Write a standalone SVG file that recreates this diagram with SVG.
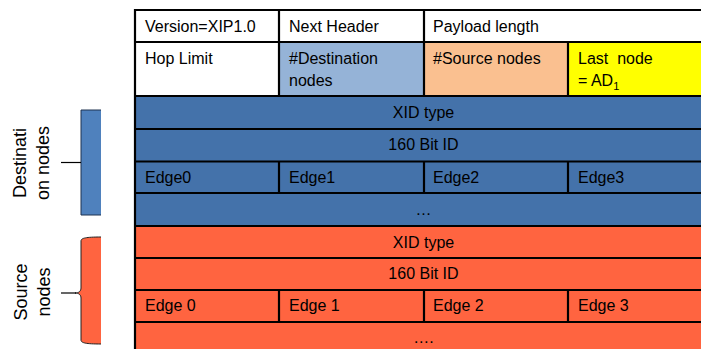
<svg xmlns="http://www.w3.org/2000/svg" width="701" height="349" viewBox="0 0 701 349">
<style>
.t{font-family:"Liberation Sans",Arial,sans-serif;font-size:16px;fill:#000}
.c{text-anchor:middle}
.lbl{font-family:"Liberation Sans",Arial,sans-serif;font-size:18px;fill:#000;text-anchor:middle}
.ln{stroke:#000;stroke-width:2.2;fill:none}
.blue{fill:#4472AA}
.org{fill:#FF6440}
</style>
<rect width="701" height="349" fill="#fff"/>
<!-- header rows -->
<g id="row-version">
<rect x="135" y="10" width="577" height="32" fill="#fff"/>
<text class="t" x="145" y="32">Version=XIP1.0</text>
<text class="t" x="289" y="32">Next Header</text>
<text class="t" x="433" y="32">Payload length</text>
</g>
<g id="row-hop">
<rect x="135" y="42" width="144" height="54" fill="#fff"/>
<rect x="279" y="42" width="145" height="54" fill="#95B3D7"/>
<rect x="424" y="42" width="144" height="54" fill="#FAC090"/>
<rect x="568" y="42" width="144" height="54" fill="#FFFF00"/>
<text class="t" x="145" y="64">Hop Limit</text>
<text class="t" x="289" y="64">#Destination</text>
<text class="t" x="289" y="86">nodes</text>
<text class="t" x="433" y="64">#Source nodes</text>
<text class="t" x="578" y="64" xml:space="preserve">Last  node</text>
<text class="t" x="578" y="86">= AD<tspan font-size="11" dy="4">1</tspan></text>
</g>
<g id="destination-block">
<rect class="blue" x="135" y="96" width="577" height="130"/>
<text class="t c" x="423.5" y="118">XID type</text>
<text class="t c" x="423.5" y="150">160 Bit ID</text>
<text class="t" x="145" y="183">Edge0</text>
<text class="t" x="289" y="183">Edge1</text>
<text class="t" x="433" y="183">Edge2</text>
<text class="t" x="578" y="183">Edge3</text>
<text class="t c" x="423.5" y="215">…</text>
</g>
<g id="source-block">
<rect class="org" x="135" y="226" width="577" height="130"/>
<text class="t c" x="423.5" y="248">XID type</text>
<text class="t c" x="423.5" y="279">160 Bit ID</text>
<text class="t" x="145" y="311">Edge 0</text>
<text class="t" x="289" y="311">Edge 1</text>
<text class="t" x="433" y="311">Edge 2</text>
<text class="t" x="578" y="311">Edge 3</text>
<text class="t c" x="423.5" y="343">….</text>
</g>
<g id="grid">
<path class="ln" d="M135,10H712M135,42H712M135,96H712M135,129H712M135,161.5H712M135,193H712M135,226H712M135,258H712M135,290H712M135,322H712"/>
<path class="ln" d="M135,9V349M279,10V96M424,10V96M568,42V96M279,161.5V193M424,161.5V193M568,161.5V193M279,290V322M424,290V322M568,290V322"/>
</g>
<g id="destination-bracket">
<rect x="81" y="110" width="20" height="105" fill="#4F81BD"/>
<path d="M101,110H81V215H101" fill="none" stroke="#1F3350" stroke-width="1"/>
<text class="lbl" transform="translate(26,163) rotate(-90)">Destinati</text>
<text class="lbl" transform="translate(49,163) rotate(-90)">on nodes</text>
</g>
<g id="source-bracket">
<path d="M101,237C86,237 81,238 81,241V288C81,291 79,293 75,293C79,293 81,295 81,298V340C81,343 86,344 101,344Z" fill="#FF6440"/>
<path d="M101,237C86,237 81,238 81,241V288C81,291 79,293 75,293C79,293 81,295 81,298V340C81,343 86,344 101,344" fill="none" stroke="#222" stroke-width="1"/>
<text class="lbl" transform="translate(27,292) rotate(-90)">Source</text>
<text class="lbl" transform="translate(50,292) rotate(-90)">nodes</text>
</g>
<g id="connectors">
<line x1="61" y1="162.5" x2="81" y2="162.5" stroke="#000" stroke-width="1.2"/>
<line x1="61" y1="293" x2="76" y2="293" stroke="#000" stroke-width="1.2"/>
</g>
</svg>
